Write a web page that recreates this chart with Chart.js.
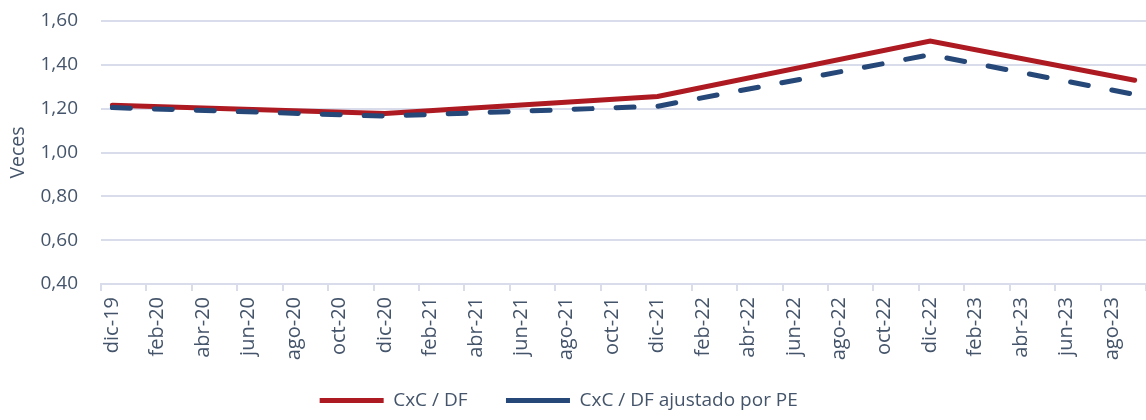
<!DOCTYPE html>
<html>
<head>
<meta charset="utf-8">
<script src="https://cdn.jsdelivr.net/npm/chart.js@4"></script>
<style>
  body { margin: 0; background: #fff; }
  #wrap { width: 1146px; height: 420px; }
</style>
</head>
<body>
<div id="wrap"><canvas id="ratioChart"></canvas></div>
<script>
// monthly axis, only every other month is labelled
const months = [
  "dic-19","ene-20","feb-20","mar-20","abr-20","may-20","jun-20","jul-20","ago-20","sep-20","oct-20","nov-20",
  "dic-20","ene-21","feb-21","mar-21","abr-21","may-21","jun-21","jul-21","ago-21","sep-21","oct-21","nov-21",
  "dic-21","ene-22","feb-22","mar-22","abr-22","may-22","jun-22","jul-22","ago-22","sep-22","oct-22","nov-22",
  "dic-22","ene-23","feb-23","mar-23","abr-23","may-23","jun-23","jul-23","ago-23","sep-23"
];

// observed points
const pointDates = ["dic-19","dic-20","dic-21","dic-22","sep-23"];
const cxcDf = [1.216, 1.178, 1.256, 1.509, 1.330];
const cxcDfAjustado = [1.205, 1.166, 1.211, 1.446, 1.265];

const yTicks = [0.4, 0.6, 0.8, 1.0, 1.2, 1.4, 1.6];

const textColor = "#44546A";
const gridColor = "#D9DCEA";
const fontFamily = "'Open Sans', 'Noto Sans', sans-serif";

const toPoints = (values) => pointDates.map((d, i) => ({ x: d, y: values[i] }));

const ctx = document.getElementById("ratioChart");

let ratioChart = new Chart(ctx, {
  type: "line",
  data: {
    labels: months,
    datasets: [
      {
        label: "CxC / DF",
        data: toPoints(cxcDf),
        borderColor: "#AE1A21",
        backgroundColor: "#AE1A21",
        borderWidth: 5,
        borderCapStyle: "round",
        borderJoinStyle: "miter",
        pointRadius: 0,
        tension: 0,
        order: 2
      },
      {
        label: "CxC / DF ajustado por PE",
        data: toPoints(cxcDfAjustado),
        borderColor: "#264878",
        backgroundColor: "#264878",
        borderWidth: 5,
        borderDash: [18, 24],
        borderCapStyle: "round",
        pointRadius: 0,
        tension: 0,
        order: 1
      }
    ]
  },
  options: {
    responsive: true,
    maintainAspectRatio: false,
    animation: false,
    layout: { padding: { top: 21, right: 0, bottom: 0, left: 0 } },
    font: { family: fontFamily },
    scales: {
      x: {
        offset: true,
        grid: {
          offset: true,
          drawOnChartArea: false,
          drawTicks: true,
          tickLength: 7,
          lineWidth: 2,
          color: (c) => (c.index === undefined || c.index % 2 === 0) ? gridColor : "rgba(0,0,0,0)"
        },
        border: { display: true, color: gridColor, width: 2 },
        ticks: {
          autoSkip: false,
          minRotation: 90,
          maxRotation: 90,
          padding: 6,
          color: textColor,
          font: { family: fontFamily, size: 20 },
          callback: function (val, i) { return i % 2 === 0 ? months[i] : ""; }
        },
        afterFit: (scale) => {
          scale.height = 97;
          scale.paddingLeft = 0;
          scale.paddingRight = 0;
        }
      },
      y: {
        min: 0.4,
        max: 1.6,
        afterBuildTicks: (scale) => { scale.ticks = yTicks.map((v) => ({ value: v })); },
        grid: { color: gridColor, lineWidth: 2, drawTicks: false },
        border: { display: false },
        ticks: {
          padding: 23,
          color: textColor,
          font: { family: fontFamily, size: 19 },
          callback: (v) => v.toFixed(2).replace(".", ",")
        },
        title: {
          display: true,
          text: "Veces",
          color: textColor,
          font: { family: fontFamily, size: 19.5 },
          padding: { top: 7, bottom: 0 }
        },
        afterFit: (scale) => {
          scale.width = 101;
          // tick padding should not push the plot down
          scale.paddingTop = 0;
          scale.paddingBottom = 0;
        }
      }
    },
    plugins: {
      legend: {
        position: "bottom",
        labels: {
          usePointStyle: true,
          pointStyle: "line",
          pointStyleWidth: 64,
          padding: 10,
          color: textColor,
          font: { family: fontFamily, size: 19 },
          sort: (a, b) => a.datasetIndex - b.datasetIndex,
          generateLabels: (chart) => {
            const items = Chart.defaults.plugins.legend.labels.generateLabels(chart);
            items.forEach((it) => {
              it.text = it.text + "\u2003\u2002";
            });
            return items;
          }
        }
      },
      tooltip: { enabled: false }
    }
  }
});
</script>
</body>
</html>
